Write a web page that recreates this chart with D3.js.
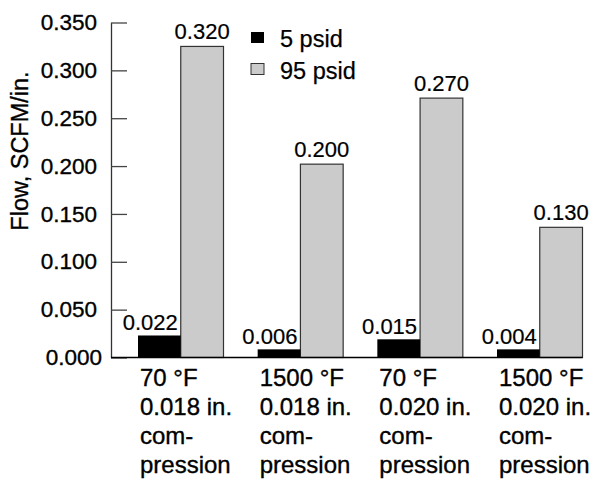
<!DOCTYPE html>
<html>
<head>
<meta charset="utf-8">
<script src="https://cdn.jsdelivr.net/npm/d3@7"></script>
<style>
  html, body { margin: 0; padding: 0; background: #fff; }
  svg { display: block; }
  text { font-family: "Liberation Sans", Arial, sans-serif; fill: #000; }
</style>
</head>
<body>
<svg id="chart" width="590" height="479"></svg>
<script>
// ---- data ----
const categories = [
  ["70 °F", "0.018 in.", "com-", "pression"],
  ["1500 °F", "0.018 in.", "com-", "pression"],
  ["70 °F", "0.020 in.", "com-", "pression"],
  ["1500 °F", "0.020 in.", "com-", "pression"]
];
const seriesNames = ["5 psid", "95 psid"];
const lowValues  = [0.023, 0.0085, 0.019, 0.0085];   // 5 psid bar heights (as drawn)
const highValues = [0.325, 0.202, 0.271, 0.136];     // 95 psid bar heights (as drawn)
const lowLabels  = ["0.022", "0.006", "0.015", "0.004"];
const highLabels = ["0.320", "0.200", "0.270", "0.130"];
const yTicks = [0, 0.05, 0.10, 0.15, 0.20, 0.25, 0.30, 0.35];
const yTickLabels = ["0.000", "0.050", "0.100", "0.150", "0.200", "0.250", "0.300", "0.350"];
const yTitle = "Flow, SCFM/in.";

// ---- layout ----
const svg = d3.select("#chart");
const axisX = 111;
const y = d3.scaleLinear().domain([0, 0.35]).range([357.5, 22.5]);
const x = d3.scaleBand().domain(d3.range(categories.length)).range([138, 582.5]).paddingInner(0.2855).paddingOuter(0);
const sub = d3.scaleBand().domain([0, 1]).range([0, x.bandwidth()]).padding(0);
const grayFill = "#cbcbcb";
const strokeCol = "#333";
const heavy = 0.35; // slight outline to mimic the heavier type of the original

// y axis
const yAxis = d3.axisLeft(y)
  .tickValues(yTicks)
  .tickFormat((d, i) => yTickLabels[i])
  .tickSize(-16)
  .tickSizeOuter(0)
  .tickPadding(14);
const gy = svg.append("g").attr("transform", `translate(${axisX},0)`).call(yAxis);
gy.select(".domain").attr("stroke", strokeCol).attr("stroke-width", 1.3);
gy.selectAll(".tick line").attr("stroke", "#444").attr("stroke-width", 1.3);
gy.selectAll(".tick text")
  .attr("font-size", 22.5)
  .attr("font-family", "Liberation Sans, Arial, sans-serif")
  .attr("fill", "#000")
  .attr("stroke", "#000").attr("stroke-width", heavy)
  .attr("dx", d => d === 0 ? 5 : 0);

// bars
const groups = svg.append("g").selectAll("g.grp")
  .data(categories.map((c, i) => i))
  .join("g")
  .attr("transform", i => `translate(${x(i)},0)`);

groups.append("rect")
  .attr("x", sub(1))
  .attr("y", i => y(highValues[i]))
  .attr("width", sub.bandwidth())
  .attr("height", i => y(0) - y(highValues[i]))
  .attr("fill", grayFill)
  .attr("stroke", strokeCol)
  .attr("stroke-width", 1.2);

groups.append("rect")
  .attr("x", sub(0))
  .attr("y", i => y(lowValues[i]))
  .attr("width", sub.bandwidth())
  .attr("height", i => y(0) - y(lowValues[i]))
  .attr("fill", "#000");

// value labels
groups.append("text")
  .attr("x", sub(1) + sub.bandwidth() / 2)
  .attr("y", i => y(highValues[i]) - 7)
  .attr("text-anchor", "middle")
  .attr("font-size", 22)
  .attr("stroke", "#000").attr("stroke-width", 0.2)
  .text(i => highLabels[i]);

groups.append("text")
  .attr("x", sub(0) + sub.bandwidth() - 3)
  .attr("y", i => y(lowValues[i]) - 5)
  .attr("text-anchor", "end")
  .attr("font-size", 22)
  .attr("stroke", "#000").attr("stroke-width", 0.2)
  .text(i => lowLabels[i]);

// category labels
groups.append("text")
  .attr("font-size", 24)
  .attr("stroke", "#000").attr("stroke-width", heavy)
  .attr("y", 386)
  .selectAll("tspan")
  .data(i => categories[i])
  .join("tspan")
  .attr("x", 2)
  .attr("dy", (d, j) => j === 0 ? 0 : 29)
  .text(d => d);

// x baseline
svg.append("line")
  .attr("x1", axisX).attr("x2", x.range()[1])
  .attr("y1", y(0)).attr("y2", y(0))
  .attr("stroke", "#000").attr("stroke-width", 1.5);

// y title
svg.append("text")
  .attr("transform", `translate(28,151) rotate(-90)`)
  .attr("text-anchor", "middle")
  .attr("font-size", 23.5)
  .attr("stroke", "#000").attr("stroke-width", heavy)
  .text(yTitle);

// legend
const legend = svg.append("g");
const legendFills = ["#000", grayFill];
const legendStroke = ["none", strokeCol];
seriesNames.forEach((name, i) => {
  const ly = 32 + i * 31.5;
  legend.append("rect")
    .attr("x", 251).attr("y", ly)
    .attr("width", 13).attr("height", 11)
    .attr("fill", legendFills[i])
    .attr("stroke", legendStroke[i]).attr("stroke-width", 1);
  legend.append("text")
    .attr("x", 280).attr("y", ly + 15)
    .attr("font-size", 23.5)
    .attr("stroke", "#000").attr("stroke-width", 0.25)
    .text(name);
});
</script>
</body>
</html>
